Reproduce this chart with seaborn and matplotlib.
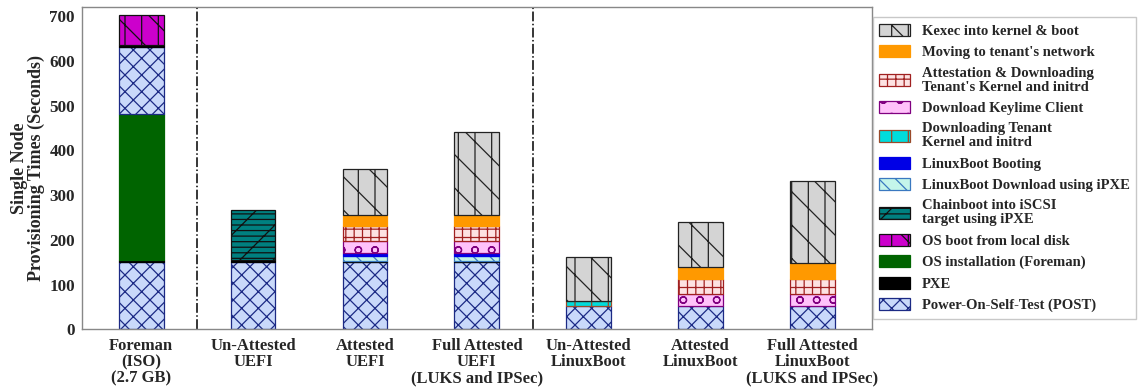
import numpy as np
import pandas as pd
import matplotlib
matplotlib.use("Agg")
import matplotlib.pyplot as plt
from matplotlib.patches import Patch
import seaborn as sns

categories = ["Foreman\n(ISO)\n(2.7 GB)", "Un-Attested\nUEFI", "Attested\nUEFI",
              "Full Attested\nUEFI\n(LUKS and IPSec)", "Un-Attested\nLinuxBoot",
              "Attested\nLinuxBoot", "Full Attested\nLinuxBoot\n(LUKS and IPSec)"]

# stacking layers (bottom to top), seconds per bar
post_vals       = [150, 150, 150, 150, 52, 52, 52]
pxe_vals        = [4, 4, 2, 2, 0, 0, 0]
os_install_vals = [327, 0, 0, 0, 0, 0, 0]
post2_vals      = [151, 0, 0, 0, 0, 0, 0]
pxe2_vals       = [3, 0, 0, 0, 0, 0, 0]
os_boot_vals    = [69, 0, 0, 0, 0, 0, 0]
chainboot_vals  = [0, 113, 0, 0, 0, 0, 0]
lb_download_vals = [0, 0, 12, 12, 0, 0, 0]
lb_booting_vals = [0, 0, 7, 7, 0, 0, 0]
dl_tenant_vals  = [0, 0, 0, 0, 12, 0, 0]
keylime_vals    = [0, 0, 27, 27, 0, 26, 26]
attest_vals     = [0, 0, 34, 34, 0, 35, 35]
moving_vals     = [0, 0, 24, 24, 0, 26, 35]
kexec_vals      = [0, 0, 102, 185, 98, 101, 184]

labels = {
    "kexec": "Kexec into kernel & boot",
    "moving": "Moving to tenant's network",
    "attest": "Attestation & Downloading\nTenant's Kernel and initrd",
    "keylime": "Download Keylime Client",
    "dltenant": "Downloading Tenant\nKernel and initrd",
    "lbboot": "LinuxBoot Booting",
    "lbdl": "LinuxBoot Download using iPXE",
    "chain": "Chainboot into iSCSI\ntarget using iPXE",
    "osboot": "OS boot from local disk",
    "osinst": "OS installation (Foreman)",
    "pxe": "PXE",
    "post": "Power-On-Self-Test (POST)",
}

styles = {
    "post":     dict(color="#c9d9fa", edgecolor="#1c2a85", hatch="xx"),
    "pxe":      dict(color="#000000", edgecolor="#000000", hatch=None),
    "osinst":   dict(color="#006400", edgecolor="#006400", hatch=None),
    "osboot":   dict(color="#cc00cc", edgecolor="#111111", hatch="|\\"),
    "chain":    dict(color="#008080", edgecolor="#111111", hatch="---/"),
    "lbdl":     dict(color="#c4f5ea", edgecolor="#3a78c0", hatch="\\\\"),
    "lbboot":   dict(color="#0000e6", edgecolor="#0000e6", hatch=None),
    "dltenant": dict(color="#00dcdc", edgecolor="#9a4a2a", hatch="|"),
    "keylime":  dict(color="#ffc2fa", edgecolor="#800080", hatch="o"),
    "attest":   dict(color="#fde2e2", edgecolor="#a02020", hatch="++"),
    "moving":   dict(color="#ff9900", edgecolor="#ff9900", hatch=None),
    "kexec":    dict(color="#d4d4d4", edgecolor="#222222", hatch="|\\"),
}

layers = [("post", post_vals), ("pxe", pxe_vals), ("osinst", os_install_vals),
          ("post", post2_vals), ("pxe", pxe2_vals), ("osboot", os_boot_vals),
          ("chain", chainboot_vals), ("lbdl", lb_download_vals),
          ("lbboot", lb_booting_vals), ("dltenant", dl_tenant_vals),
          ("keylime", keylime_vals), ("attest", attest_vals),
          ("moving", moving_vals), ("kexec", kexec_vals)]

sns.set_style("white")
plt.rcParams["font.family"] = ["Liberation Serif", "DejaVu Serif"]
plt.rcParams["font.weight"] = "bold"
plt.rcParams["hatch.linewidth"] = 0.9

fig = plt.figure(figsize=(11.38, 3.87), dpi=100)
ax = fig.add_axes([0.072, 0.149, 0.694, 0.832])

bottoms = np.zeros(len(categories))
for key, vals in layers:
    vals = np.array(vals, dtype=float)
    mask = vals > 0
    df = pd.DataFrame({"cat": np.array(categories)[mask], "val": vals[mask]})
    st = styles[key]
    sns.barplot(data=df, x="cat", y="val", order=categories, ax=ax,
                color=st["color"], edgecolor=st["edgecolor"], hatch=st["hatch"],
                linewidth=0.9, width=0.4, bottom=bottoms[mask], saturation=1,
                errorbar=None)
    bottoms = bottoms + vals

ax.axvline(0.5, color="black", ls="-.", lw=1.1)
ax.axvline(3.5, color="black", ls="-.", lw=1.1)

ax.set_xlim(-0.53, 6.53)
ax.set_ylim(0, 720)
ax.set_yticks(range(0, 701, 100))
ax.set_xlabel("")
ax.set_ylabel("Single Node\nProvisioning Times (Seconds)", fontsize=13, fontweight="bold",
              linespacing=1.0, labelpad=3)
ax.tick_params(axis="x", labelsize=12, length=3, direction="out", color="#555555", pad=3)
ax.tick_params(axis="y", labelsize=12.3, length=3, direction="out", color="#555555", pad=2)
for lab in ax.get_xticklabels() + ax.get_yticklabels():
    lab.set_fontweight("bold")
    lab.set_linespacing(1.05)
for sp in ax.spines.values():
    sp.set_color("#888888")
    sp.set_linewidth(1.0)

order = ["kexec", "moving", "attest", "keylime", "dltenant", "lbboot", "lbdl",
         "chain", "osboot", "osinst", "pxe", "post"]
handles = [Patch(facecolor=styles[k]["color"], edgecolor=styles[k]["edgecolor"],
                 hatch=styles[k]["hatch"], linewidth=0.9, label=labels[k]) for k in order]
leg = fig.legend(handles=handles, loc="upper left", bbox_to_anchor=(0.767, 0.955),
                 borderaxespad=0, frameon=True, fancybox=False, handlelength=2.1,
                 handleheight=0.9, labelspacing=0.5, borderpad=0.45, handletextpad=0.8,
                 prop={"weight": "bold", "size": 10.5})
leg.get_frame().set_edgecolor("#bbbbbb")
leg.get_frame().set_linewidth(1.0)
for t in leg.get_texts():
    t.set_linespacing(1.1)

fig.savefig("out.png", dpi=100)
